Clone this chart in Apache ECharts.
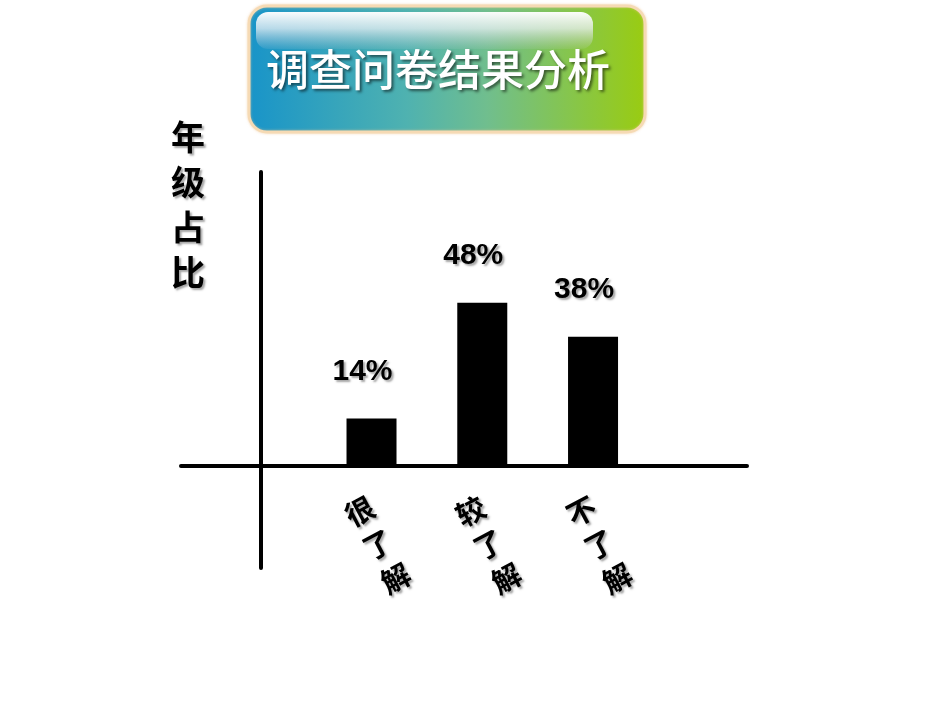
<!DOCTYPE html>
<html>
<head>
<meta charset="utf-8">
<script src="https://cdn.jsdelivr.net/npm/echarts@6/dist/echarts.min.js"></script>
<style>
html,body{margin:0;padding:0;background:#fff;}
#chart{width:950px;height:713px;}
</style>
</head>
<body>
<div id="chart"></div>
<script>
const titleText = '调查问卷结果分析';
const yAxisName = '年级占比';
const categories = ['很了解', '较了解', '不了解'];
const values = [14, 48, 38];

const shadow = {
  textShadowColor: 'rgba(0,0,0,0.35)',
  textShadowBlur: 2,
  textShadowOffsetX: 2,
  textShadowOffsetY: 2
};

const chart = echarts.init(document.getElementById('chart'));
chart.setOption({
  animation: false,
  backgroundColor: '#fff',
  title: [{
    text: yAxisName.split('').join('\n'),
    left: 166,
    top: 110,
    textStyle: Object.assign({
      fontFamily: 'Noto Sans CJK SC',
      fontSize: 34,
      lineHeight: 45,
      fontWeight: 'bold',
      color: '#000'
    }, shadow)
  }],
  graphic: [
    {
      type: 'rect',
      shape: { x: 249, y: 6, width: 396, height: 126, r: 18 },
      style: {
        fill: new echarts.graphic.LinearGradient(0, 0, 1, 0, [
          { offset: 0, color: '#1894c9' },
          { offset: 0.4, color: '#4fb2b0' },
          { offset: 0.6, color: '#70be8e' },
          { offset: 1, color: '#9acc10' }
        ]),
        stroke: '#f6dab4',
        lineWidth: 3,
        shadowColor: 'rgba(240,200,150,0.6)',
        shadowBlur: 3
      }
    },
    {
      type: 'rect',
      shape: { x: 256, y: 12, width: 337, height: 37, r: 12 },
      style: {
        fill: new echarts.graphic.LinearGradient(0, 0, 0, 1, [
          { offset: 0, color: 'rgba(255,255,255,0.97)' },
          { offset: 0.45, color: 'rgba(235,240,245,0.75)' },
          { offset: 1, color: 'rgba(200,210,220,0.1)' }
        ])
      }
    },
    {
      type: 'text',
      x: 266,
      y: 70,
      style: {
        text: titleText,
        font: '500 43px "Noto Sans CJK SC"',
        fill: '#fff',
        verticalAlign: 'middle',
        textAlign: 'left',
        textShadowColor: 'rgba(0,0,0,0.55)',
        textShadowBlur: 3,
        textShadowOffsetX: 2,
        textShadowOffsetY: 2
      }
    }
  ],
  grid: { left: 181, right: 203, top: 172, bottom: 145 },
  xAxis: {
    type: 'value',
    min: -0.72,
    max: 4.39,
    axisLine: { show: true, onZero: true, lineStyle: { color: '#000', width: 4 } },
    axisTick: { show: false },
    splitLine: { show: false },
    axisLabel: Object.assign({
      customValues: categories.map((c, i) => i + 1),
      formatter: v => categories[Math.round(v) - 1].split('').join('\n'),
      rotate: 28,
      align: 'center',
      verticalAlign: 'middle',
      margin: -20,
      padding: [0, 0, 0, 14],
      fontFamily: 'Noto Sans CJK SC',
      fontSize: 29,
      fontWeight: 'bold',
      lineHeight: 38,
      color: '#000'
    }, shadow)
  },
  yAxis: {
    type: 'value',
    min: -30,
    max: 86.5,
    axisLine: { show: true, onZero: true, lineStyle: { color: '#000', width: 4 } },
    axisTick: { show: false },
    axisLabel: { show: false },
    splitLine: { show: false }
  },
  series: [{
    type: 'bar',
    data: values.map((v, i) => [i + 1, v]),
    barWidth: 50,
    itemStyle: { color: '#000' },
    label: Object.assign({
      show: true,
      position: 'top',
      distance: 32,
      offset: [-9, 0],
      formatter: p => p.value[1] + '%',
      fontFamily: 'Liberation Sans',
      fontSize: 30,
      fontWeight: 'bold',
      color: '#000'
    }, shadow)
  }]
});
</script>
</body>
</html>
